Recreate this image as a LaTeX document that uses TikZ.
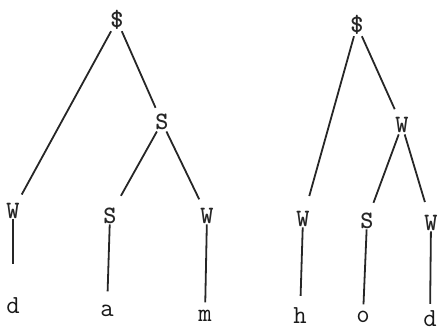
\documentclass[tikz,border=0pt]{standalone}
\begin{document}
\begin{tikzpicture}[x=1pt,y=-1pt,
  lbl/.style={anchor=base, font=\ttfamily\bfseries\fontsize{25}{25}\selectfont, inner sep=1pt, text=black!85},
  leaf/.style={lbl, font=\ttfamily\fontsize{26}{26}\selectfont, text=black!90},
  edge/.style={draw=black!85, line width=1.8pt}]
\useasboundingbox (0,0) rectangle (438,331);
% left tree
\node[lbl] (lr) at (117,28) {\$};
\node[lbl] (lm) at (162,130) {S};
\node[lbl] (lw1) at (13,218) {W};
\node[lbl] (ls2) at (110,223) {S};
\node[lbl] (lw3) at (207,223) {W};
\node[leaf] (ld) at (13,313) {d};
\node[leaf] (la) at (107,316) {a};
\node[leaf] (lmm) at (205,321) {m};
% right tree
\node[lbl] (rr) at (357,33) {\$};
\node[lbl] (rm) at (402,133) {W};
\node[lbl] (rw1) at (303,226) {W};
\node[lbl] (rs2) at (367,228) {S};
\node[lbl] (rw3) at (431,230) {W};
\node[leaf] (rh) at (300,323) {h};
\node[leaf] (ro) at (363,322) {o};
\node[leaf] (rd) at (430,326) {d};
% left edges
\draw[edge, shorten >=8pt] (lr) -- (lw1);
\draw[edge, shorten >=6pt] (lr) -- (lm);
\draw[edge, shorten >=12pt] (lm) -- (ls2);
\draw[edge, shorten >=8pt] (lm) -- (lw3);
\draw[edge, shorten >=32pt] (lw1) -- (ld);
\draw[edge, shorten >=12pt] (ls2) -- (la);
\draw[edge, shorten >=6pt] (lw3) -- (lmm);
% right edges
\draw[edge, shorten >=14pt] (rr) -- (rw1);
\draw[edge, shorten >=8pt] (rr) -- (rm);
\draw[edge, shorten >=9pt] (rm) -- (rs2);
\draw[edge, shorten >=12pt] (rm) -- (rw3);
\draw[edge, shorten >=10pt] (rw1) -- (rh);
\draw[edge, shorten >=5pt] (rs2) -- (ro);
\draw[edge, shorten >=5pt] (rw3) -- (rd);
\end{tikzpicture}
\end{document}
